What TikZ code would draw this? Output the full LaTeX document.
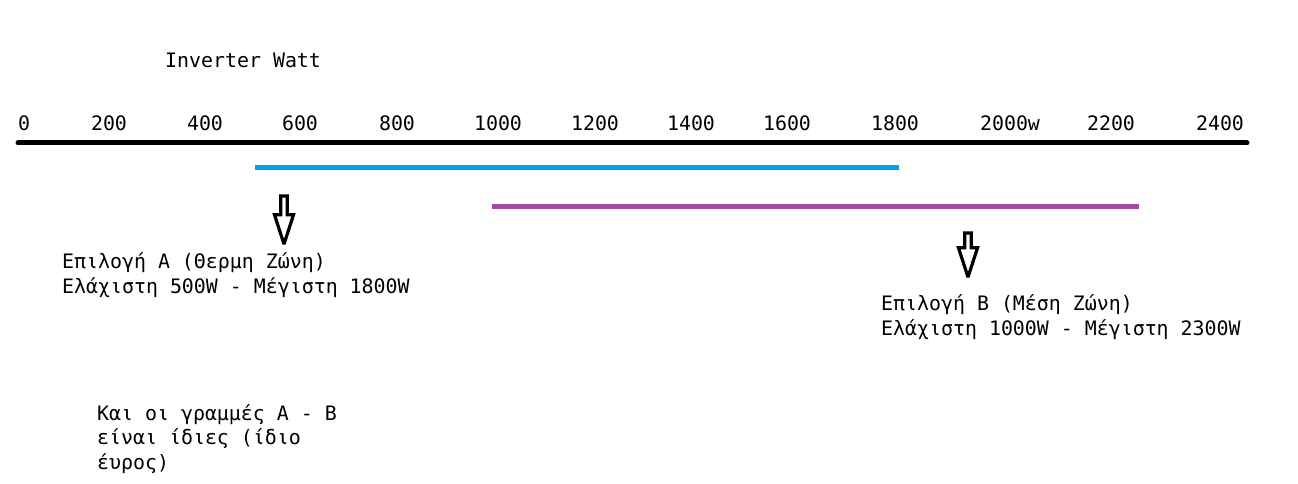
\documentclass[tikz,border=0pt]{standalone}
\usepackage{fontspec}
\setmonofont{DejaVu Sans Mono}
\usepackage{tikz}
\usetikzlibrary{positioning, shapes.arrows}
\definecolor{zoneBlue}{RGB}{0,162,232}
\definecolor{zonePurple}{RGB}{163,73,164}

\tikzset{
    lbl/.style={font=\ttfamily\fontsize{19.9}{24.5}\selectfont, inner sep=0pt},
    downarrow/.style={single arrow, draw=black, line width=3.2pt, fill=white, rotate=-90,
        minimum height=48pt, minimum width=19pt, single arrow head extend=3pt,
        single arrow tip angle=36, inner sep=0pt, miter limit=3}
}

\begin{document}
\begin{tikzpicture}[x=1pt, y=-1pt]
    \useasboundingbox (0,0) rectangle (1298,484);
    \node[lbl, anchor=west] (title) at (165,60) {Inverter Watt};

    % scale
    \coordinate (axisL) at (18,143);
    \coordinate (axisR) at (1247,143);
    \draw[line width=5pt, line cap=round] (axisL) -- (axisR);
    \foreach \x/\lab in {24/0, 109/200, 205/400, 300/600, 397/800, 498/1000, 595/1200,
                         691/1400, 787/1600, 895/1800, 1010/2000w, 1111/2200, 1220/2400}
        \node[lbl] (tick\lab) at (\x,123) {\lab};

    % zones
    \coordinate (aL) at (255,167);
    \coordinate (aR) at (899,167);
    \coordinate (bL) at (492,206);
    \coordinate (bR) at (1139,206);
    \draw[zoneBlue, line width=5pt] (aL) -- (aR);
    \draw[zonePurple, line width=5pt] (bL) -- (bR);

    \node[downarrow] (arrA) at (284,215) {};
    \node[downarrow, minimum height=44pt] (arrB) at (968,250) {};

    \node[lbl, anchor=west, align=left] (optA) at (62,275)
        {Επιλογή A (Θερμη Ζώνη)\\Ελάχιστη 500W - Μέγιστη 1800W};
    \node[lbl, anchor=west, align=left] (optB) at (881,317)
        {Επιλογή B (Μέση Ζώνη)\\Ελάχιστη 1000W - Μέγιστη 2300W};
    \node[lbl, anchor=west, align=left] (note) at (97,439)
        {Και οι γραμμές A - B\\είναι ίδιες (ίδιο\\έυρος)};
\end{tikzpicture}
\end{document}
